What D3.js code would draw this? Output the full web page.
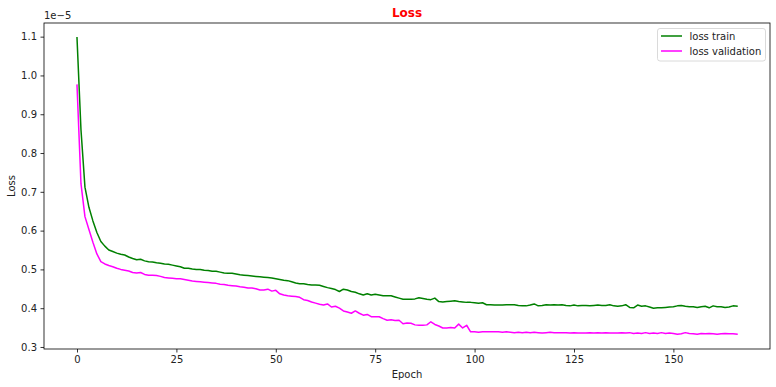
<!DOCTYPE html>
<html>
<head>
<meta charset="utf-8">
<script src="https://cdn.jsdelivr.net/npm/d3@7"></script>
<style>
  html, body { margin: 0; padding: 0; background: #fff; }
  svg { display: block; font-family: "DejaVu Sans", sans-serif; }
</style>
</head>
<body>
<svg id="chart" width="776" height="387"></svg>
<script>
// Values in units of 1e-5
const lossTrain = [
  1.097, 0.860, 0.712, 0.660, 0.625, 0.595, 0.572, 0.560, 0.550, 0.546,
  0.542, 0.539, 0.537, 0.532, 0.528, 0.525, 0.526, 0.522, 0.520, 0.519,
  0.517, 0.516, 0.514, 0.513, 0.511, 0.509, 0.507, 0.503, 0.503, 0.501,
  0.500, 0.500, 0.498, 0.497, 0.495, 0.495, 0.493, 0.491, 0.490, 0.490,
  0.488, 0.486, 0.485, 0.484, 0.483, 0.482, 0.481, 0.480, 0.479, 0.478,
  0.476, 0.474, 0.472, 0.471, 0.468, 0.465, 0.463, 0.463, 0.461, 0.460,
  0.460, 0.459, 0.456, 0.453, 0.451, 0.448, 0.443, 0.449, 0.447, 0.443,
  0.441, 0.437, 0.434, 0.437, 0.434, 0.436, 0.434, 0.432, 0.432, 0.432,
  0.429, 0.426, 0.423, 0.423, 0.423, 0.424, 0.427, 0.425, 0.423, 0.422,
  0.426, 0.417, 0.416, 0.417, 0.418, 0.419, 0.417, 0.416, 0.415, 0.415,
  0.414, 0.413, 0.414, 0.409, 0.409, 0.408, 0.408, 0.408, 0.409, 0.409,
  0.409, 0.407, 0.406, 0.406, 0.408, 0.411, 0.406, 0.407, 0.409, 0.408,
  0.409, 0.408, 0.409, 0.407, 0.406, 0.408, 0.406, 0.407, 0.407, 0.406,
  0.407, 0.408, 0.407, 0.407, 0.409, 0.406, 0.405, 0.406, 0.409, 0.402,
  0.401, 0.408, 0.405, 0.406, 0.403, 0.400, 0.401, 0.401, 0.402, 0.403,
  0.404, 0.406, 0.407, 0.405, 0.404, 0.404, 0.402, 0.404, 0.405, 0.401,
  0.406, 0.404, 0.404, 0.402, 0.403, 0.406, 0.405
];
const lossValidation = [
  0.975, 0.721, 0.636, 0.603, 0.570, 0.540, 0.520, 0.514, 0.510, 0.507,
  0.503, 0.500, 0.498, 0.496, 0.492, 0.491, 0.492, 0.487, 0.485, 0.485,
  0.484, 0.482, 0.479, 0.478, 0.477, 0.476, 0.476, 0.474, 0.472, 0.470,
  0.469, 0.468, 0.467, 0.466, 0.465, 0.464, 0.462, 0.461, 0.459, 0.458,
  0.457, 0.455, 0.454, 0.452, 0.452, 0.450, 0.447, 0.447, 0.449, 0.444,
  0.446, 0.437, 0.434, 0.432, 0.431, 0.430, 0.428, 0.422, 0.420, 0.416,
  0.413, 0.410, 0.408, 0.411, 0.403, 0.405, 0.400, 0.393, 0.390, 0.387,
  0.393, 0.387, 0.382, 0.384, 0.378, 0.378, 0.378, 0.373, 0.369, 0.370,
  0.368, 0.369, 0.360, 0.362, 0.361, 0.357, 0.356, 0.356, 0.357, 0.365,
  0.358, 0.354, 0.349, 0.349, 0.350, 0.349, 0.359, 0.349, 0.356, 0.339,
  0.339, 0.338, 0.339, 0.339, 0.339, 0.339, 0.339, 0.338, 0.339, 0.338,
  0.337, 0.338, 0.337, 0.338, 0.337, 0.338, 0.337, 0.336, 0.337, 0.338,
  0.337, 0.337, 0.337, 0.337, 0.336, 0.337, 0.336, 0.336, 0.336, 0.337,
  0.336, 0.337, 0.336, 0.337, 0.336, 0.336, 0.336, 0.337, 0.336, 0.337,
  0.335, 0.336, 0.335, 0.337, 0.335, 0.336, 0.335, 0.337, 0.335, 0.336,
  0.335, 0.333, 0.334, 0.337, 0.335, 0.334, 0.333, 0.335, 0.334, 0.335,
  0.334, 0.333, 0.334, 0.335, 0.334, 0.334, 0.333
];
const epochs = lossTrain.map((_, i) => i);
const xTicks = [0, 25, 50, 75, 100, 125, 150];
const yTicks = [0.3, 0.4, 0.5, 0.6, 0.7, 0.8, 0.9, 1.0, 1.1];
const seriesNames = ["loss train", "loss validation"];
const seriesColors = ["#008000", "#ff00ff"];

const svg = d3.select("#chart");
const m = { left: 44, right: 770, top: 23, bottom: 349 };

const xMin = d3.min(epochs), xMax = d3.max(epochs);
const xPad = (xMax - xMin) * 0.05;
const x = d3.scaleLinear().domain([xMin - xPad, xMax + xPad]).range([m.left, m.right]);

const allVals = lossTrain.concat(lossValidation);
const yMin = d3.min(allVals), yMax = d3.max(allVals);
const yPad = (yMax - yMin) * 0.05;
const y = d3.scaleLinear().domain([yMin - yPad, yMax + yPad]).range([m.bottom, m.top]);

// axes
const xAxis = d3.axisBottom(x).tickValues(xTicks).tickFormat(d3.format("d")).tickSize(3.5).tickPadding(3.5);
const yAxis = d3.axisLeft(y).tickValues(yTicks).tickFormat(d3.format(".1f")).tickSize(3.5).tickPadding(3.5);

const gx = svg.append("g").attr("transform", `translate(0,${m.bottom})`).call(xAxis);
const gy = svg.append("g").attr("transform", `translate(${m.left},0)`).call(yAxis);
[gx, gy].forEach(g => {
  g.select(".domain").remove();
  g.selectAll(".tick line").attr("stroke", "#000").attr("stroke-width", 0.8);
  g.selectAll(".tick text").attr("fill", "#222").style("font-size", "10px").style("font-family", "DejaVu Sans, sans-serif");
});

// lines
const line = d3.line().x((d, i) => x(epochs[i])).y(d => y(d));
[lossTrain, lossValidation].forEach((s, k) => {
  svg.append("path").datum(s)
    .attr("fill", "none")
    .attr("stroke", seriesColors[k])
    .attr("stroke-width", 1.5)
    .attr("stroke-linejoin", "round")
    .attr("stroke-linecap", "square")
    .attr("d", line);
});

// frame
svg.append("rect")
  .attr("x", m.left).attr("y", m.top)
  .attr("width", m.right - m.left).attr("height", m.bottom - m.top)
  .attr("fill", "none").attr("stroke", "#000").attr("stroke-width", 0.8);

// offset text
svg.append("text").attr("x", m.left).attr("y", 19)
  .style("font-size", "10px").attr("fill", "#222").text("1e\u22125");

// title
svg.append("text").attr("x", (m.left + m.right) / 2).attr("y", 17)
  .attr("text-anchor", "middle").style("font-size", "12px").style("font-weight", "bold")
  .attr("fill", "#ff0000").text("Loss");

// axis labels
svg.append("text").attr("x", (m.left + m.right) / 2).attr("y", 378)
  .attr("text-anchor", "middle").style("font-size", "10px").attr("fill", "#222").text("Epoch");
svg.append("text").attr("transform", `translate(15,${(m.top + m.bottom) / 2}) rotate(-90)`)
  .attr("text-anchor", "middle").style("font-size", "10px").attr("fill", "#222").text("Loss");

// legend
const lg = svg.append("g");
lg.append("rect").attr("x", 657.5).attr("y", 28.5).attr("width", 108).attr("height", 32.5)
  .attr("rx", 2.5).attr("fill", "#fff").attr("fill-opacity", 0.8)
  .attr("stroke", "#d0d0d0").attr("stroke-width", 0.8);
seriesNames.forEach((name, k) => {
  const yy = 36 + k * 15;
  lg.append("line").attr("x1", 661).attr("x2", 682).attr("y1", yy).attr("y2", yy)
    .attr("stroke", seriesColors[k]).attr("stroke-width", 1.5);
  lg.append("text").attr("x", 689.5).attr("y", yy + 3.5)
    .style("font-size", "10px").attr("fill", "#222").text(name);
});
</script>
</body>
</html>
